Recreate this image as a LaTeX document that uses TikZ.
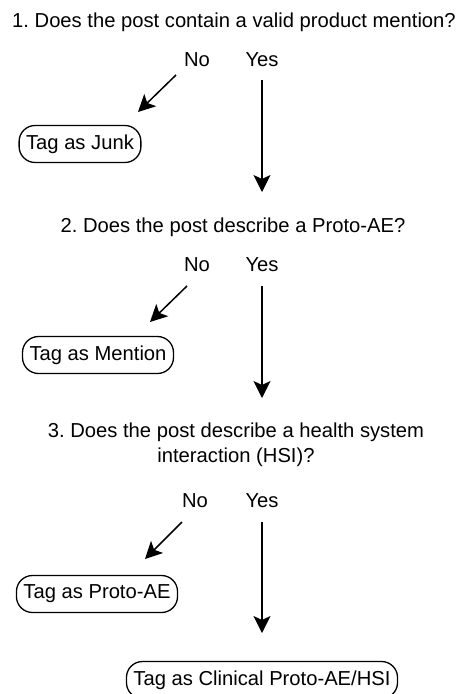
\documentclass[tikz,border=0pt]{standalone}
\usepackage{fontspec}
\setmainfont{Liberation Sans}
\frenchspacing
\usetikzlibrary{arrows.meta,positioning}

\begin{document}
\begin{tikzpicture}[x=1pt, y=-1pt,
	every node/.style={font=\fontsize{20.2}{25}\selectfont},
	question/.style={align=center, inner sep=0pt},
	answer/.style={inner sep=0pt},
	tagbox/.style={draw, line width=1.3pt, rounded corners=16pt, minimum height=37pt, inner xsep=7pt},
	link/.style={line width=1.5pt, -{Stealth[length=17pt, width=17pt, inset=4pt]}},
	]

	\useasboundingbox (0,0) rectangle (463,694);

	% question 1
	\node[question] (q1) at (234,22) {1. Does the post contain a valid product mention?};
	\node[answer] (no1) at (197,60) {No};
	\node[answer] (yes1) at (262,60) {Yes};
	\node[tagbox] (junk) at (80,144) {Tag as Junk};
	\coordinate (n1a) at (176,75);
	\coordinate (n1b) at (138,112);
	\coordinate (y1a) at (262,80);
	\coordinate (y1b) at (262,192);
	\draw[link] (n1a) -- (n1b);
	\draw[link] (y1a) -- (y1b);

	% question 2
	\node[question] (q2) at (233,227) {2. Does the post describe a Proto-AE?};
	\node[answer] (no2) at (197,265) {No};
	\node[answer] (yes2) at (262,265) {Yes};
	\node[tagbox] (mention) at (98,355) {Tag as Mention};
	\coordinate (n2a) at (187,286);
	\coordinate (n2b) at (150,322);
	\coordinate (y2a) at (262,286);
	\coordinate (y2b) at (262,398);
	\draw[link] (n2a) -- (n2b);
	\draw[link] (y2a) -- (y2b);

	% question 3
	\node[question] (q3) at (236,445) {3. Does the post describe a health system\\interaction (HSI)?};
	\node[answer] (no3) at (195,501) {No};
	\node[answer] (yes3) at (262,501) {Yes};
	\node[tagbox] (protoae) at (97,594) {Tag as Proto-AE};
	\node[tagbox] (clinical) at (262,680) {Tag as Clinical Proto-AE/HSI};
	\coordinate (n3a) at (182,522);
	\coordinate (n3b) at (145,559);
	\coordinate (y3a) at (262,522);
	\coordinate (y3b) at (262,633);
	\draw[link] (n3a) -- (n3b);
	\draw[link] (y3a) -- (y3b);

\end{tikzpicture}
\end{document}
